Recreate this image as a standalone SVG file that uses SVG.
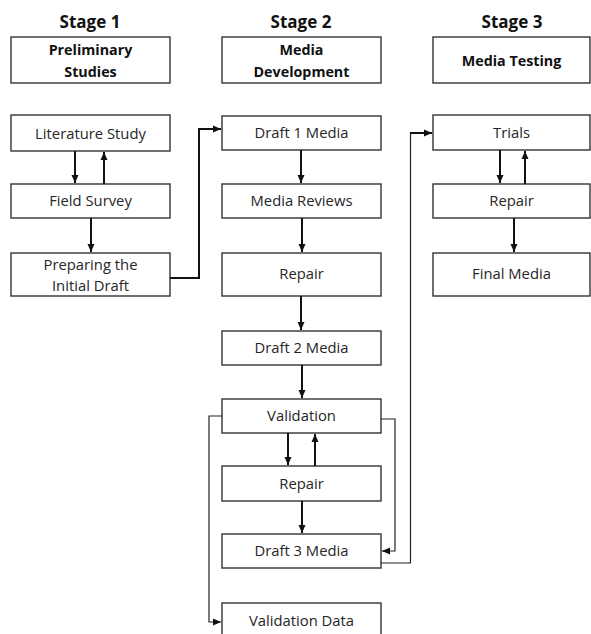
<svg xmlns="http://www.w3.org/2000/svg" width="591" height="634" viewBox="0 0 591 634">
<defs>
<marker id="ah" markerWidth="9" markerHeight="9" refX="8" refY="4.5" orient="auto" markerUnits="userSpaceOnUse">
<path d="M0,1 L8,4.5 L0,8 Z" fill="#111"/>
</marker>
<style>
.box{fill:#fff;stroke:#333;stroke-width:1.4}
.t{font-family:"Open Sans","Noto Sans",sans-serif;font-size:14.8px;fill:#262626;text-anchor:middle}
.b{font-weight:bold;fill:#111;font-size:14.3px}
.h{font-family:"Open Sans","Noto Sans",sans-serif;font-size:17px;font-weight:bold;fill:#111;text-anchor:middle}
.c{fill:none;stroke:#111;stroke-width:2}
.thin{fill:none;stroke:#222;stroke-width:1.2}
</style>
</defs>
<rect width="591" height="634" fill="#fff"/>
<g id="headers">
<text class="h" x="90" y="28">Stage 1</text>
<text class="h" x="301" y="28">Stage 2</text>
<text class="h" x="512" y="28">Stage 3</text>
</g>
<g id="n-prelim"><rect class="box" x="11" y="37" width="159" height="46"/><text class="t b" x="90.5" y="55">Preliminary</text><text class="t b" x="90.5" y="77">Studies</text></g>
<g id="n-mediadev"><rect class="box" x="222" y="37" width="159" height="46"/><text class="t b" x="301.5" y="55">Media</text><text class="t b" x="301.5" y="77">Development</text></g>
<g id="n-mediatest"><rect class="box" x="433" y="37" width="157" height="46"/><text class="t b" x="511.5" y="66">Media Testing</text></g>
<g id="n-lit"><rect class="box" x="11" y="115" width="159" height="36"/><text class="t" x="90.5" y="139">Literature Study</text></g>
<g id="n-field"><rect class="box" x="11" y="184" width="159" height="34"/><text class="t" x="90.5" y="206">Field Survey</text></g>
<g id="n-prep"><rect class="box" x="11" y="253" width="159" height="43"/><text class="t" x="90.5" y="270">Preparing the</text><text class="t" x="90.5" y="291">Initial Draft</text></g>
<g id="n-d1"><rect class="box" x="222" y="116" width="159" height="34"/><text class="t" x="301.5" y="138">Draft 1 Media</text></g>
<g id="n-rev"><rect class="box" x="222" y="184" width="159" height="34"/><text class="t" x="301.5" y="206">Media Reviews</text></g>
<g id="n-rep1"><rect class="box" x="222" y="253" width="159" height="43"/><text class="t" x="301.5" y="279">Repair</text></g>
<g id="n-d2"><rect class="box" x="222" y="331" width="159" height="34"/><text class="t" x="301.5" y="353">Draft 2 Media</text></g>
<g id="n-val"><rect class="box" x="222" y="399" width="159" height="34"/><text class="t" x="301.5" y="421">Validation</text></g>
<g id="n-rep2"><rect class="box" x="222" y="466" width="159" height="35"/><text class="t" x="301.5" y="489">Repair</text></g>
<g id="n-d3"><rect class="box" x="222" y="534" width="159" height="34"/><text class="t" x="301.5" y="556">Draft 3 Media</text></g>
<g id="n-vdata"><rect class="box" x="222" y="603" width="159" height="40"/><text class="t" x="301.5" y="626">Validation Data</text></g>
<g id="n-trials"><rect class="box" x="433" y="115" width="157" height="35"/><text class="t" x="511.5" y="138">Trials</text></g>
<g id="n-rep3"><rect class="box" x="433" y="184" width="157" height="34"/><text class="t" x="511.5" y="206">Repair</text></g>
<g id="n-final"><rect class="box" x="433" y="253" width="157" height="43"/><text class="t" x="511.5" y="279">Final Media</text></g>
<g id="connectors">
<path class="c" d="M75,151 V183" marker-end="url(#ah)"/>
<path class="c" d="M104,184 V152" marker-end="url(#ah)"/>
<path class="c" d="M91,218 V252" marker-end="url(#ah)"/>
<path class="c" d="M170,278 H199 V129 H221" marker-end="url(#ah)"/>
<path class="c" d="M301,150 V183" marker-end="url(#ah)"/>
<path class="c" d="M302,218 V252" marker-end="url(#ah)"/>
<path class="c" d="M301,296 V330" marker-end="url(#ah)"/>
<path class="c" d="M302,365 V398" marker-end="url(#ah)"/>
<path class="c" d="M288,433 V465" marker-end="url(#ah)"/>
<path class="c" d="M315,466 V434" marker-end="url(#ah)"/>
<path class="c" d="M302,501 V533" marker-end="url(#ah)"/>
<path class="thin" d="M222,416 H209 V622 H221" marker-end="url(#ah)"/>
<path class="thin" d="M381,419 H395 V551 H382" marker-end="url(#ah)"/>
<path class="thin" d="M381,563 H410.5 V133" />
<path class="c" d="M410,133 H432" marker-end="url(#ah)"/>
<path class="c" d="M500,150 V183" marker-end="url(#ah)"/>
<path class="c" d="M525,184 V151" marker-end="url(#ah)"/>
<path class="c" d="M514,218 V252" marker-end="url(#ah)"/>
</g>
</svg>
